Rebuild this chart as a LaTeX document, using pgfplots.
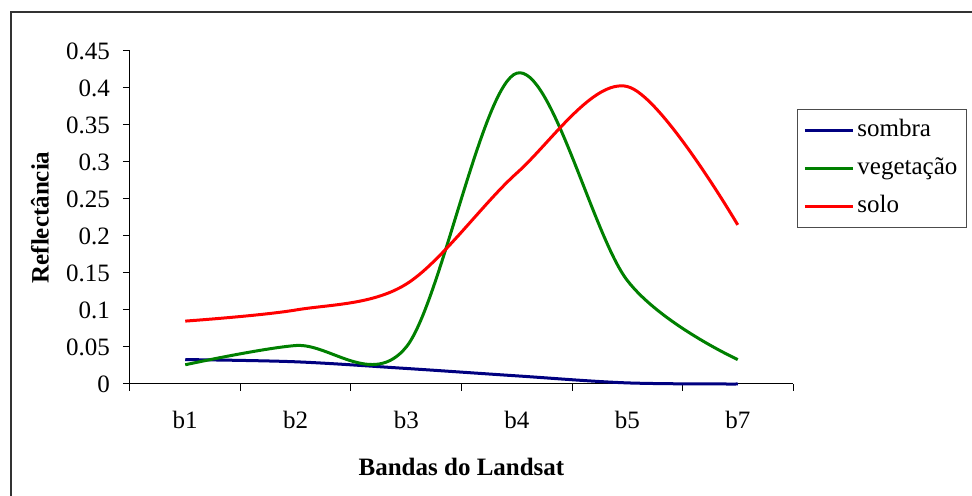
\documentclass[border=0pt]{standalone}
\usepackage{fontspec}
\setmainfont{Liberation Serif}
\usepackage{pgfplots}
\pgfplotsset{compat=1.18}
\definecolor{sombra}{RGB}{0,0,128}
\definecolor{veg}{RGB}{0,128,0}
\definecolor{solo}{RGB}{255,0,0}
\begin{document}
\begin{tikzpicture}
\useasboundingbox (-65pt,-56pt) rectangle (421pt,192pt);
\fill[white] (-65pt,-56pt) rectangle (421pt,192pt);
\draw[line width=1pt, black!80] (-59.5pt,-70pt) -- (-59.5pt,186pt) -- (440pt,186pt);
\begin{axis}[
  at={(0pt,0pt)}, anchor=south west,
  scale only axis, width=331.5pt, height=166.5pt,
  xmin=-0.5, xmax=5.5, ymin=0, ymax=0.45,
  axis x line*=bottom, axis y line*=left,
  axis line style={line width=0.5pt, black},
  tick align=outside,
  major tick length=3.5pt,
  tick style={black, line width=0.5pt},
  xtick={-0.5,0.5,1.5,2.5,3.5,4.5,5.5},
  xticklabels={},
  extra x ticks={0,1,2,3,4,5},
  extra x tick labels={b1,b2,b3,b4,b5,b7},
  extra x tick style={major tick length=0pt, tick label style={yshift=-10pt}},
  ytick={0,0.05,0.1,0.15,0.2,0.25,0.3,0.35,0.4,0.45},
  yticklabels={0,0.05,0.1,0.15,0.2,0.25,0.3,0.35,0.4,0.45},
  tick label style={font=\fontsize{12.5}{14}\selectfont},
  yticklabel style={xshift=-3pt},
  xlabel={Bandas do Landsat},
  ylabel={Reflectância},
  label style={font=\fontsize{12.5}{14}\selectfont\bfseries},
  xlabel style={at={(rel axis cs:0.5,-0.249)}, anchor=center},
  ylabel style={at={(rel axis cs:-0.1357,0.5)}, anchor=center, rotate=0},
  legend style={at={(rel axis cs:1.006,0.826)}, anchor=north west,
    draw=black!70, line width=0.5pt, font=\fontsize{12.5}{14}\selectfont,
    inner xsep=3pt, inner ysep=3.5pt, row sep=5pt,
    nodes={inner sep=1.5pt, text height=8.5pt, text depth=2.5pt}},
  legend cell align=left,
  legend image code/.code={\draw[#1, line width=1.5pt] (0pt,0pt) -- (24pt,0pt);},
  clip=false,
]
\addplot[color=sombra, line width=1.5pt, smooth, tension=0.55] coordinates {
(0,0.033) (1,0.030) (2,0.021) (3,0.011) (4,0.0015) (5,0.0)};
\addlegendentry{sombra}
\addplot[color=veg, line width=1.5pt, smooth, tension=0.55] coordinates {
(0,0.026) (1,0.052) (2,0.050) (3,0.420) (4,0.140) (5,0.033)};
\addlegendentry{vegetação}
\addplot[color=solo, line width=1.5pt, smooth, tension=0.55] coordinates {
(0,0.085) (1,0.100) (2,0.135) (3,0.285) (4,0.402) (5,0.215)};
\addlegendentry{solo}
\end{axis}
\end{tikzpicture}
\end{document}
